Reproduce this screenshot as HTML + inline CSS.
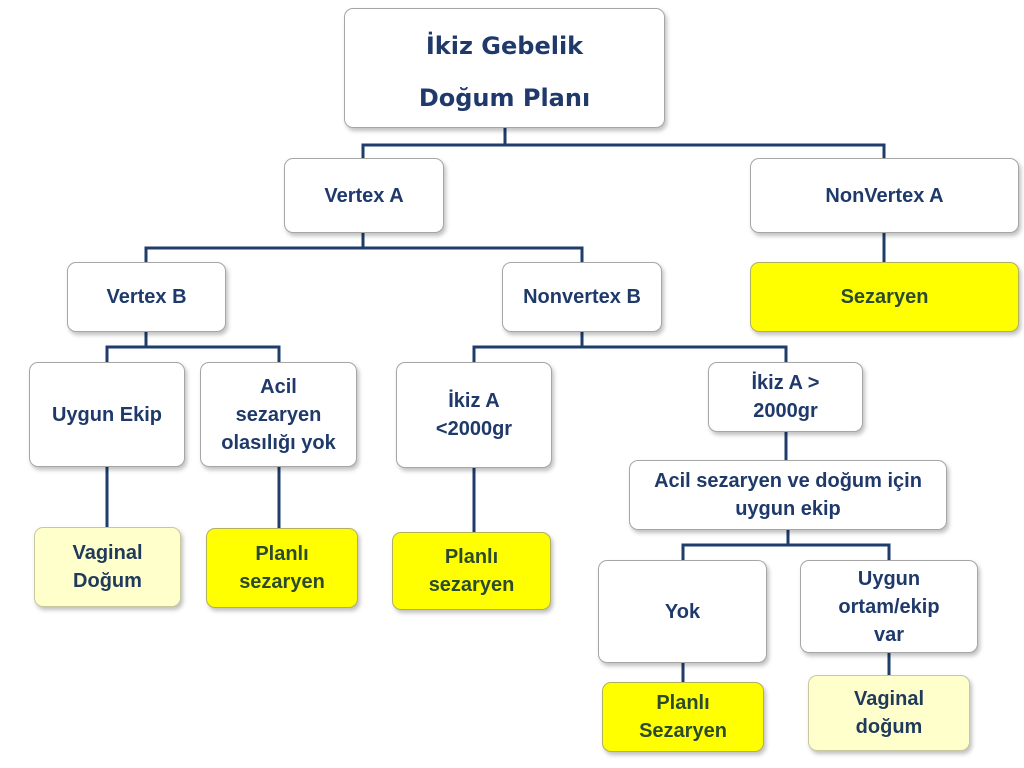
<!DOCTYPE html>
<html><head><meta charset="utf-8"><style>
body{margin:0;width:1024px;height:768px;background:#fff;position:relative;overflow:hidden;font-family:"Liberation Sans",sans-serif;}
.b{position:absolute;box-sizing:border-box;border:1px solid #a6a6a6;border-radius:9px;background:#fff;display:flex;align-items:center;justify-content:center;text-align:center;color:#1f3a6a;font-weight:bold;font-size:20px;line-height:28px;box-shadow:2px 3px 4px rgba(0,0,0,0.25);}
.y{background:#ffff00;color:#2b4a2e;border-color:#b0b060;}
.p{background:#ffffcc;color:#1f3a5a;border-color:#c8c8a0;}
svg{position:absolute;left:0;top:0;}
</style></head><body>
<svg width="1024" height="768"><g stroke="#1f3d6b" stroke-width="3" fill="none">
<path d="M505 128V145M363 158V145H884V158"/>
<path d="M363 233V248M146 262V248H582V262"/>
<path d="M146 332V347M107 362V347H279V362"/>
<path d="M582 332V347M474 362V347H786V362"/>
<path d="M884 233V262"/>
<path d="M107 467V527M279 467V528M474 468V532M786 432V460"/>
<path d="M788 530V545M683 560V545H889V560"/>
<path d="M683 663V682M889 653V675"/>
</g></svg>
<div class="b" style="left:344px;top:8px;width:321px;height:120px;padding-top:8px;font-family:'Comic Sans MS','DejaVu Sans',sans-serif;font-size:24px;line-height:52px;">İkiz Gebelik<br>Doğum Planı</div>
<div class="b" style="left:284px;top:158px;width:160px;height:75px;">Vertex A</div>
<div class="b" style="left:750px;top:158px;width:269px;height:75px;">NonVertex A</div>
<div class="b" style="left:67px;top:262px;width:159px;height:70px;">Vertex B</div>
<div class="b" style="left:502px;top:262px;width:160px;height:70px;">Nonvertex B</div>
<div class="b y" style="left:750px;top:262px;width:269px;height:70px;">Sezaryen</div>
<div class="b" style="left:29px;top:362px;width:156px;height:105px;">Uygun Ekip</div>
<div class="b" style="left:200px;top:362px;width:157px;height:105px;">Acil<br>sezaryen<br>olasılığı yok</div>
<div class="b" style="left:396px;top:362px;width:156px;height:106px;">İkiz A<br>&lt;2000gr</div>
<div class="b" style="left:708px;top:362px;width:155px;height:70px;">İkiz A &gt;<br>2000gr</div>
<div class="b" style="left:629px;top:460px;width:318px;height:70px;">Acil sezaryen ve doğum için<br>uygun ekip</div>
<div class="b p" style="left:34px;top:527px;width:147px;height:80px;">Vaginal<br>Doğum</div>
<div class="b y" style="left:206px;top:528px;width:152px;height:80px;">Planlı<br>sezaryen</div>
<div class="b y" style="left:392px;top:532px;width:159px;height:78px;">Planlı<br>sezaryen</div>
<div class="b" style="left:598px;top:560px;width:169px;height:103px;">Yok</div>
<div class="b" style="left:800px;top:560px;width:178px;height:93px;">Uygun<br>ortam/ekip<br>var</div>
<div class="b y" style="left:602px;top:682px;width:162px;height:70px;">Planlı<br>Sezaryen</div>
<div class="b p" style="left:808px;top:675px;width:162px;height:76px;">Vaginal<br>doğum</div>
</body></html>
